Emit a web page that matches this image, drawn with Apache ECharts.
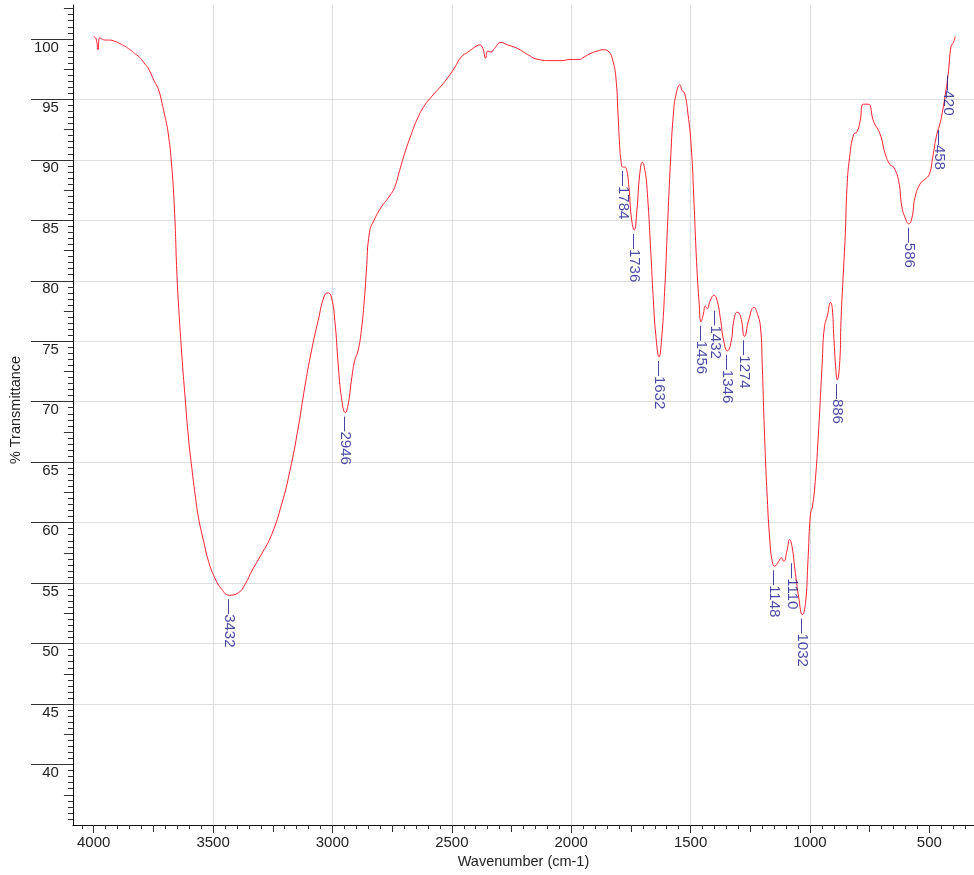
<!DOCTYPE html>
<html>
<head>
<meta charset="utf-8">
<script src="https://cdn.jsdelivr.net/npm/echarts@6/dist/echarts.min.js"></script>
<style>html,body{margin:0;padding:0;background:#fff}#c{width:974px;height:875px}</style>
</head>
<body>
<div id="c"></div>
<script>
// Spectrum (wavenumber cm-1, % transmittance)
const wavenumbers = [4000,3990,3982,3975,3967,3950,3935,3912,3890,3870,3855,3840,3829,3815,3800,3785,3772,3760,3746,3735,3725,3715,3704,3695,3688,3675,3662,3652,3645,3631,3617,3603,3589,3575,3561,3540,3519,3492,3464,3432,3394,3366,3338,3297,3255,3213,3178,3143,3116,3088,3060,3033,3018,3004,2990,2976,2962,2946,2934,2921,2907,2893,2879,2865,2858,2845,2826,2795,2761,2740,2719,2698,2670,2642,2614,2586,2545,2517,2489,2461,2433,2405,2384,2370,2359,2349,2336,2322,2294,2266,2224,2182,2140,2085,2043,2001,1967,1946,1918,1890,1863,1841,1827,1813,1804,1798,1792,1784,1776,1768,1758,1748,1736,1725,1713,1702,1691,1681,1667,1656,1646,1632,1621,1608,1597,1584,1572,1560,1545,1535,1525,1511,1497,1486,1475,1465,1456,1447,1438,1430,1419,1402,1388,1374,1361,1346,1330,1319,1305,1291,1274,1256,1235,1219,1207,1200,1191,1179,1168,1158,1148,1131,1120,1110,1096,1085,1075,1061,1047,1032,1019,1009,998,990,978,964,949,940,926,914,907,900,891,886,875,870,862,852,845,834,817,803,790,776,756,734,706,685,665,650,629,615,601,586,573,560,539,518,500,486,469,458,444,430,420,409,399,392];
const transmittance = [100.2,100.0,99.1,100.1,100.0,99.9,99.9,99.8,99.6,99.4,99.2,99.0,98.8,98.6,98.3,97.9,97.6,97.1,96.5,96.1,95.6,94.8,93.8,93.0,92.2,89.9,86.0,80.8,78.1,73.9,70.3,67.0,64.5,62.3,60.4,58.5,56.8,55.4,54.5,54.0,54.2,54.9,56.0,57.4,59.0,61.5,64.3,67.9,71.2,74.2,76.7,78.8,79.0,78.6,76.7,73.1,70.3,69.1,69.8,71.7,73.4,74.2,75.9,78.8,80.8,84.0,85.0,86.1,87.0,87.7,89.1,90.5,92.1,93.5,94.5,95.2,96.1,96.8,97.6,98.5,98.9,99.3,99.5,99.2,98.4,99.0,98.9,99.2,99.7,99.5,99.2,98.7,98.3,98.2,98.2,98.3,98.3,98.5,98.8,99.0,99.1,98.9,98.3,96.8,93.8,91.5,90.0,89.4,89.4,89.2,87.7,85.2,84.2,85.8,88.8,89.8,89.1,87.2,82.5,78.4,75.6,73.7,75.3,79.4,84.4,89.9,93.8,95.5,96.2,95.7,95.5,93.8,91.0,86.6,81.6,78.4,76.6,77.2,77.9,77.7,78.3,78.8,78.3,76.7,75.0,74.2,75.0,76.7,77.4,77.1,75.4,76.8,77.8,77.2,76.1,73.1,67.6,62.1,58.5,56.8,56.4,56.8,57.1,56.8,57.7,58.6,58.0,55.8,53.8,52.4,53.3,56.6,60.7,61.3,63.4,67.6,73.1,76.1,77.2,78.2,77.8,75.3,72.5,71.8,73.4,76.7,80.0,83.9,87.7,90.2,92.1,92.3,93.2,94.6,94.6,93.2,92.1,90.5,89.6,89.4,88.3,86.1,85.2,84.7,85.2,86.9,88.0,88.4,88.8,90.2,92.1,92.8,94.1,95.8,97.3,99.4,99.7,100.2];

// Peak annotations
const peakLabels = ['3432','2946','1784','1736','1632','1456','1432','1346','1274','1148','1110','1032','886','586','458','420'];
const peakWavenumbers = [3432,2946,1784,1736,1632,1456,1432,1346,1274,1148,1110,1032,886,586,458,420];
const peakTransmittance = [54.0,69.1,89.4,84.2,73.7,76.6,77.7,74.2,75.4,56.4,56.8,52.4,71.8,84.7,92.8,97.3];
const leaderPeaks = ['1432','1110'];

// Tick labels
const xTickLabels = [4000,3500,3000,2500,2000,1500,1000,500];
const yTickLabels = [40,45,50,55,60,65,70,75,80,85,90,95,100];

const X_MIN = 313, X_MAX = 4087, Y_MIN = 35, Y_MAX = 102.8;
const xMidTicks = [], xMinorTicks = [], yMidTicks = [], yMinorTicks = [];
for (let v = 750; v <= 3750; v += 500) xMidTicks.push(v);
for (let v = 350; v <= 4050; v += 50) xMinorTicks.push(v);
for (let v = 37.5; v <= 102.5; v += 5) yMidTicks.push(v);
for (let v = 35.5; v <= 102.5; v += 0.5) yMinorTicks.push(Math.round(v * 10) / 10);

const FONT = 'Liberation Sans, Arial, Helvetica, sans-serif';
const TEXT = '#222';
const TICK = '#333';

function xAxisLayer(ticks, len, extra) {
  return Object.assign({
    type: 'value', gridIndex: 0, position: 'bottom', offset: 0, inverse: true,
    min: X_MIN, max: X_MAX, splitNumber: 8,
    axisLine: {show: false}, axisLabel: {show: false}, splitLine: {show: false},
    axisTick: {show: true, inside: false, length: len, customValues: ticks, lineStyle: {color: TICK, width: 1}}
  }, extra || {});
}
function yAxisLayer(ticks, len, extra) {
  return Object.assign({
    type: 'value', gridIndex: 0, position: 'left', offset: 0,
    min: Y_MIN, max: Y_MAX, interval: 5,
    axisLine: {show: false}, axisLabel: {show: false}, splitLine: {show: false},
    axisTick: {show: true, inside: false, length: len, customValues: ticks, lineStyle: {color: TICK, width: 1}}
  }, extra || {});
}

const chart = echarts.init(document.getElementById('c'), null, {renderer: 'canvas'});
chart.setOption({
  animation: false,
  backgroundColor: '#ffffff',
  grid: {left: 71, right: 0, top: 5, bottom: 50, containLabel: false},
  xAxis: [
    xAxisLayer(xTickLabels, 8, {
      axisLine: {show: true, onZero: false, lineStyle: {color: '#111', width: 1}},
      axisLabel: {show: true, customValues: xTickLabels, formatter: v => String(v), margin: 10, fontSize: 15, color: TEXT, fontFamily: FONT},
      splitLine: {show: true, showMinLine: false, showMaxLine: false, lineStyle: {color: '#dddddd', width: 1}},
      name: 'Wavenumber (cm-1)', nameLocation: 'middle', nameGap: 28,
      nameTextStyle: {fontSize: 14.5, color: TEXT, fontFamily: FONT}
    }),
    xAxisLayer(xMidTicks, 7),
    xAxisLayer(xMinorTicks, 4)
  ],
  yAxis: [
    yAxisLayer(yTickLabels, 42, {
      axisLine: {show: true, onZero: false, lineStyle: {color: '#111', width: 1}},
      axisLabel: {show: true, customValues: yTickLabels, formatter: v => String(v), margin: 14, fontSize: 15, color: TEXT, fontFamily: FONT, verticalAlign: 'top', lineHeight: 17},
      splitLine: {show: true, showMinLine: false, showMaxLine: false, lineStyle: {color: '#dddddd', width: 1}},
      name: '% Transmittance', nameLocation: 'middle', nameGap: 49, nameRotate: 90,
      nameTextStyle: {fontSize: 14.5, color: TEXT, fontFamily: FONT, padding: [0, 0, 0, 10]}
    }),
    yAxisLayer(yMidTicks, 9),
    yAxisLayer(yMinorTicks, 5)
  ],
  series: [
    {
      type: 'line', xAxisIndex: 0, yAxisIndex: 0,
      data: wavenumbers.map((w, i) => [w, transmittance[i]]),
      showSymbol: false, smooth: 0.5,
      lineStyle: {color: '#ff1f2f', width: 1},
      silent: true, z: 3
    },
    {
      type: 'scatter', xAxisIndex: 0, yAxisIndex: 0,
      symbolSize: 0.1, itemStyle: {color: 'rgba(0,0,0,0)'}, silent: true, z: 5,
      data: peakWavenumbers.map((w, i) => {
        const item = {value: [w, peakTransmittance[i]], name: peakLabels[i]};
        if (leaderPeaks.indexOf(peakLabels[i]) >= 0) {
          item.label = {position: [8, 2]};
        }
        return item;
      }),
      label: {
        show: true, formatter: p => '\u2014' + p.name, rotate: -90,
        position: [0, 4], align: 'left', verticalAlign: 'middle',
        color: '#1a1a8c', fontSize: 15, fontFamily: FONT
      }
    }
  ]
});
</script>
</body>
</html>
